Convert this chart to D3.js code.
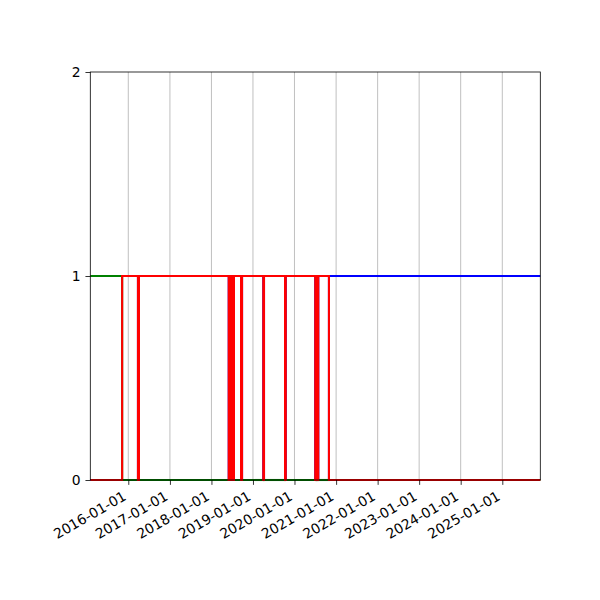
<!DOCTYPE html>
<html>
<head>
<meta charset="utf-8">
<script src="https://cdn.jsdelivr.net/npm/d3@7"></script>
<style>
  html, body { margin: 0; padding: 0; background: #fff; }
  svg { display: block; }
</style>
</head>
<body>
<div id="chart"></div>
<script>
// state changes: from each date on, the named series is the active one (1), others 0
const switchDates = [
  "2015-02-01", "2015-11-08",
  "2016-03-26", "2016-04-04",
  "2018-06-02", "2018-06-07", "2018-06-12", "2018-06-17", "2018-06-22", "2018-06-27",
  "2018-07-02", "2018-07-07", "2018-07-12", "2018-07-18",
  "2018-09-18", "2018-09-27",
  "2019-04-02", "2019-04-08",
  "2019-10-10", "2019-10-16",
  "2020-07-02", "2020-07-07", "2020-07-12", "2020-07-17", "2020-07-22", "2020-07-28",
  "2020-10-30"
];
const activeSeries = [
  "green", "red",
  "blue", "red",
  "blue", "red", "blue", "red", "blue", "red",
  "blue", "red", "blue", "red",
  "blue", "red",
  "blue", "red",
  "blue", "red",
  "blue", "red", "blue", "red", "blue", "red",
  "blue"
];
const endDate = "2025-12-01";
const seriesNames = ["blue", "green", "red"];   // drawing order
const seriesColors = ["#0000ff", "#008000", "#ff0000"];
const yTicks = [0, 1, 2];

const width = 600, height = 600;
const margin = { left: 90.3, right: 59.7, top: 72, bottom: 120 };
const font = "DejaVu Sans";

const parse = d3.utcParse("%Y-%m-%d");
const dates = switchDates.map(parse);
const lastDate = parse(endDate);

const svg = d3.select("#chart").append("svg")
  .attr("width", width)
  .attr("height", height);

const x = d3.scaleUtc()
  .domain([dates[0], lastDate])
  .range([margin.left, width - margin.right]);

const y = d3.scaleLinear()
  .domain([0, 2])
  .range([height - margin.bottom, margin.top]);

const xTicks = x.ticks(d3.utcYear.every(1));

// clip only left/right so the line at 0 still shows over the spine
svg.append("clipPath")
  .attr("id", "plot-clip")
  .append("rect")
  .attr("x", margin.left)
  .attr("y", margin.top - 3)
  .attr("width", width - margin.left - margin.right)
  .attr("height", height - margin.top - margin.bottom + 6);

// vertical grid
svg.append("g")
  .selectAll("line")
  .data(xTicks)
  .join("line")
  .attr("x1", d => x(d)).attr("x2", d => x(d))
  .attr("y1", y(0)).attr("y2", y(2))
  .attr("stroke", "#b0b0b0")
  .attr("stroke-width", 0.8);

// step lines, one element per step so overlapping strokes stay solid
const line = d3.line()
  .x(d => x(d.date))
  .y(d => y(d.value))
  .curve(d3.curveStepAfter);

const plot = svg.append("g").attr("clip-path", "url(#plot-clip)");

seriesNames.forEach(function (name, i) {
  let pts = dates.map((d, j) => ({ date: d, value: activeSeries[j] === name ? 1 : 0 }));
  pts.push({ date: lastDate, value: pts[pts.length - 1].value });
  plot.append("g")
    .selectAll("path")
    .data(d3.pairs(pts))
    .join("path")
    .attr("fill", "none")
    .attr("stroke", seriesColors[i])
    .attr("stroke-width", 2.08)
    .attr("stroke-linejoin", "miter")
    .attr("stroke-linecap", "square")
    .attr("d", d => line(d));
});

// frame
svg.append("rect")
  .attr("x", margin.left)
  .attr("y", margin.top)
  .attr("width", width - margin.left - margin.right)
  .attr("height", height - margin.top - margin.bottom)
  .attr("fill", "none")
  .attr("stroke", "#000")
  .attr("stroke-width", 0.8);

// x axis
const xAxis = d3.axisBottom(x)
  .tickValues(xTicks)
  .tickFormat(d3.utcFormat("%Y-%m-%d"))
  .tickSize(4.86)
  .tickPadding(4.86);

const gx = svg.append("g")
  .attr("transform", `translate(0,${y(0)})`)
  .call(xAxis)
  .attr("font-family", font)
  .attr("font-size", 13.9);
gx.select(".domain").remove();
gx.selectAll(".tick line").attr("stroke", "#000").attr("stroke-width", 0.8);
gx.selectAll(".tick text")
  .attr("fill", "#000")
  .attr("text-anchor", "end")
  .attr("y", 0)
  .attr("dy", 0)
  .attr("transform", "translate(-1.6,19) rotate(-30)");

// y axis
const yAxis = d3.axisLeft(y)
  .tickValues(yTicks)
  .tickFormat(d3.format("d"))
  .tickSize(4.86)
  .tickPadding(4.86);

const gy = svg.append("g")
  .attr("transform", `translate(${margin.left},0)`)
  .call(yAxis)
  .attr("font-family", font)
  .attr("font-size", 13.9);
gy.select(".domain").remove();
gy.selectAll(".tick line").attr("stroke", "#000").attr("stroke-width", 0.8);
gy.selectAll(".tick text").attr("fill", "#000");
</script>
</body>
</html>
